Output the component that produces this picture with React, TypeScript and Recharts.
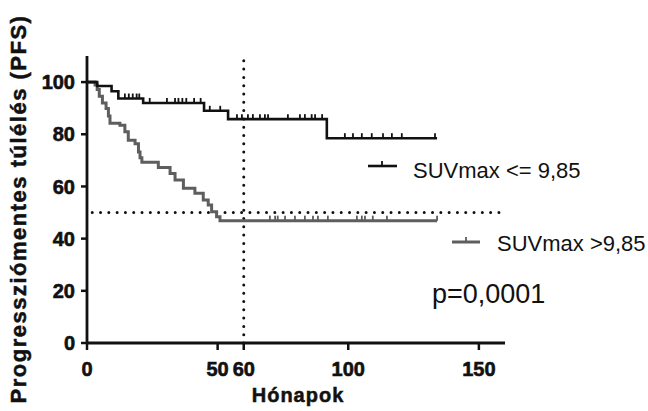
import React from 'react';
import { ComposedChart, Line, Scatter, XAxis, YAxis, ReferenceLine } from 'recharts';

// Kaplan-Meier steps (months, % PFS)
const lowTime = [0, 3.1, 3.9, 4.7, 5.9, 7.3, 8.2, 8.8, 12.6, 14.5, 15.8, 18.4, 19.7, 20.3, 21, 27.3, 31.8, 33.7, 36.9, 41.3, 44.5, 46.4, 47.7, 49.6, 50.9, 134];
const lowSurv = [100, 98.9, 97.2, 94.6, 92, 89.9, 87, 84.2, 83.5, 81, 77.7, 76.4, 73.2, 71, 69.3, 67.3, 65, 62.5, 59.3, 57.4, 54.8, 52.9, 50.3, 48.4, 46.9, 46.9];

const highTime = [0, 3.9, 9.4, 12, 21.5, 44.8, 54, 91.8, 134];
const highSurv = [100, 98.5, 96.5, 93.7, 92, 89, 85.8, 78.5, 78.5];

// censored observations
const highCensT = [14.5, 16, 17.5, 19, 20, 24, 30.6, 33.7, 35, 36.5, 38, 41, 43.5, 47, 51, 57.4, 59.3, 61.6, 63.5, 66.2, 68.1, 69.3, 76.9, 81.5, 83.4, 86, 87.3, 90, 98.7, 101.8, 105.2, 109, 113.3, 116.7, 120.5, 133.2];
const highCensS = [93.7, 93.7, 93.7, 93.7, 93.7, 92, 92, 92, 92, 92, 92, 92, 92, 89, 89, 85.8, 85.8, 85.8, 85.8, 85.8, 85.8, 85.8, 85.8, 85.8, 85.8, 85.8, 85.8, 85.8, 78.5, 78.5, 78.5, 78.5, 78.5, 78.5, 78.5, 78.5];
const lowCensT = [70, 72, 73, 75.8, 79.6, 83.4, 86.5, 88.4, 92.2, 103.3, 105.2, 106.4, 109.4, 114.8, 134];
const lowCensS = [46.9, 46.9, 46.9, 46.9, 46.9, 46.9, 46.9, 46.9, 46.9, 46.9, 46.9, 46.9, 46.9, 46.9, 46.9];

const xTicks = [0, 50, 60, 100, 150];
const yTicks = [0, 20, 40, 60, 80, 100];

const lowData = lowTime.map((t, i) => ({ t, s: lowSurv[i] }));
const highData = highTime.map((t, i) => ({ t, s: highSurv[i] }));
const highCens = highCensT.map((t, i) => ({ t, s: highCensS[i] }));
const lowCens = lowCensT.map((t, i) => ({ t, s: lowCensS[i] }));

const BLACK = '#111';
const GRAY = '#5e5e5e';
const FONT = '"Liberation Sans", Arial, sans-serif';

const censorMark = (color: string) => (props: any) => {
  const { cx, cy } = props;
  return <line x1={cx} y1={cy} x2={cx} y2={cy - 5} stroke={color} strokeWidth={1.8} />;
};

// heavy bold look of the original tick labels
const tickStyle = { fill: BLACK, fontSize: 20, fontWeight: 700, fontFamily: FONT, stroke: BLACK, strokeWidth: 0.6 };

const App = () => {
  return (
    <div style={{ position: 'absolute', left: 0, top: 0, width: 648, height: 411, background: '#fff' }}>
      <ComposedChart width={648} height={411} margin={{ top: 56, right: 143, bottom: 38, left: 27 }}>
        <XAxis
          dataKey="t"
          type="number"
          domain={[0, 160]}
          ticks={xTicks}
          interval={0}
          height={30}
          tick={tickStyle}
          tickSize={7}
          tickMargin={12}
          axisLine={{ stroke: BLACK, strokeWidth: 2.8 }}
          tickLine={{ stroke: BLACK, strokeWidth: 2.5 }}
        />
        <YAxis
          type="number"
          domain={[0, 110]}
          ticks={yTicks}
          interval={0}
          width={60}
          tick={tickStyle}
          tickSize={6}
          tickMargin={6}
          axisLine={{ stroke: BLACK, strokeWidth: 2.8 }}
          tickLine={{ stroke: BLACK, strokeWidth: 2.5 }}
        />
        {/* median / 5-year guides */}
        <ReferenceLine
          segment={[{ x: 2, y: 50 }, { x: 160.5, y: 50 }]}
          stroke={BLACK}
          strokeWidth={3}
          strokeDasharray="0 8.3"
          strokeLinecap="round"
          ifOverflow="visible"
        />
        <ReferenceLine
          segment={[{ x: 60, y: 0 }, { x: 60, y: 110 }]}
          stroke={BLACK}
          strokeWidth={3}
          strokeDasharray="0 8.3"
          strokeLinecap="round"
          ifOverflow="visible"
        />
        <Line data={lowData} dataKey="s" type="stepAfter" stroke={GRAY} strokeWidth={3} dot={false} isAnimationActive={false} />
        <Line data={highData} dataKey="s" type="stepAfter" stroke={BLACK} strokeWidth={2.6} dot={false} isAnimationActive={false} />
        <Scatter data={lowCens} dataKey="s" shape={censorMark(GRAY)} isAnimationActive={false} />
        <Scatter data={highCens} dataKey="s" shape={censorMark(BLACK)} isAnimationActive={false} />
      </ComposedChart>

      <svg width={648} height={411} style={{ position: 'absolute', left: 0, top: 0, pointerEvents: 'none' }}>
        <text
          x={0}
          y={0}
          transform="translate(26 209) rotate(-90)"
          textAnchor="middle"
          fontFamily={FONT}
          fontWeight={700}
          fontSize={22}
          letterSpacing={1.5}
          fill={BLACK}
          stroke={BLACK}
          strokeWidth={0.5}
        >
          Progressziómentes túlélés (PFS)
        </text>
        <text x={298} y={402} textAnchor="middle" fontFamily={FONT} fontWeight={700} fontSize={20} letterSpacing={1} fill={BLACK} stroke={BLACK} strokeWidth={0.5}>
          Hónapok
        </text>

        <line x1={368} y1={166} x2={397} y2={166} stroke={BLACK} strokeWidth={2.6} />
        <line x1={382} y1={166} x2={382} y2={161} stroke={BLACK} strokeWidth={1.8} />
        <text x={413} y={178} fontFamily={FONT} fontSize={22} fill={BLACK}>SUVmax &lt;= 9,85</text>

        <line x1={452} y1={242} x2={480} y2={242} stroke={GRAY} strokeWidth={3} />
        <line x1={466} y1={242} x2={466} y2={237} stroke={GRAY} strokeWidth={1.8} />
        <text x={497} y={251} fontFamily={FONT} fontSize={22} fill={BLACK}>SUVmax &gt;9,85</text>

        <text x={432} y={303} fontFamily={FONT} fontSize={27} fill={BLACK}>p=0,0001</text>
      </svg>
    </div>
  );
};

export default App;
